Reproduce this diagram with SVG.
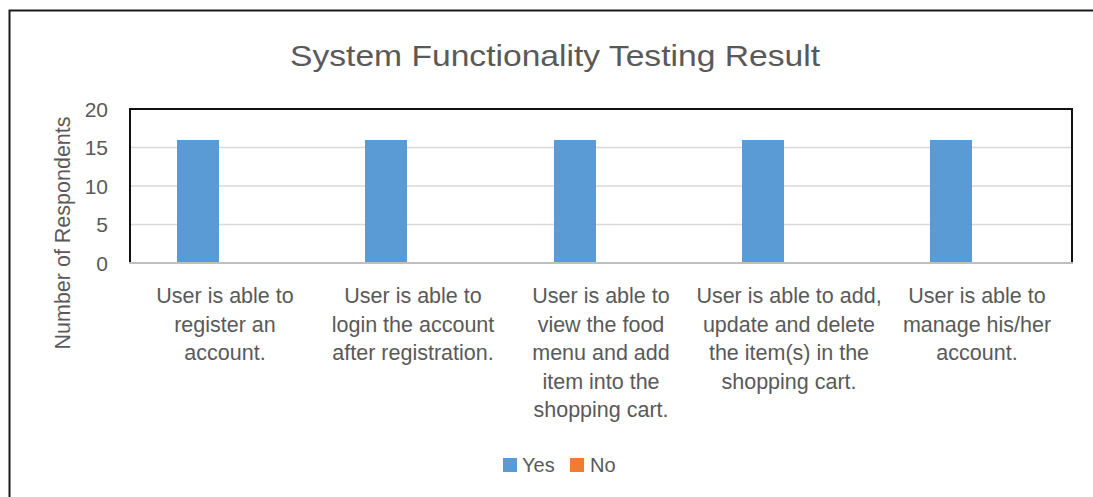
<svg xmlns="http://www.w3.org/2000/svg" width="1093" height="497" viewBox="0 0 1093 497">
<style>
text{font-family:"Liberation Sans",Arial,sans-serif;fill:#595959}
.tick{font-size:21px;text-anchor:end}
.cat{font-size:21.5px;text-anchor:middle}
.grid{stroke:#D9D9D9;stroke-width:1.5}
.bar{fill:#5B9BD5}
</style>
<rect width="1093" height="497" fill="#fff"/>
<g id="frame">
<path d="M9.5 497 V10.5 H1093" fill="none" stroke="#1a1a1a" stroke-width="2"/>
</g>
<text id="title" x="555" y="66" font-size="30" text-anchor="middle" textLength="530" lengthAdjust="spacingAndGlyphs">System Functionality Testing Result</text>
<g id="gridlines">
<line class="grid" x1="130" y1="147.5" x2="1072" y2="147.5"/>
<line class="grid" x1="130" y1="186" x2="1072" y2="186"/>
<line class="grid" x1="130" y1="224.5" x2="1072" y2="224.5"/>
</g>
<g id="bars">
<rect class="bar" x="177" y="140" width="42" height="123"/>
<rect class="bar" x="365" y="140" width="42" height="123"/>
<rect class="bar" x="554" y="140" width="42" height="123"/>
<rect class="bar" x="742" y="140" width="42" height="123"/>
<rect class="bar" x="930" y="140" width="42" height="123"/>
</g>
<g id="plot-border">
<path d="M130 263 V109 H1072 V263" fill="none" stroke="#111" stroke-width="2"/>
<line x1="129" y1="263" x2="1073" y2="263" stroke="#BFBFBF" stroke-width="2"/>
</g>
<g id="y-axis">
<text class="tick" x="108" y="116.5">20</text>
<text class="tick" x="108" y="155">15</text>
<text class="tick" x="108" y="193.5">10</text>
<text class="tick" x="108" y="232">5</text>
<text class="tick" x="108" y="270.5">0</text>
<text x="70" y="233" font-size="21.5" text-anchor="middle" transform="rotate(-90 70 233)">Number of Respondents</text>
</g>
<g id="categories">
<text class="cat" x="225" y="303">User is able to<tspan x="225" y="331.5">register an</tspan><tspan x="225" y="360">account.</tspan></text>
<text class="cat" x="413" y="303">User is able to<tspan x="413" y="331.5">login the account</tspan><tspan x="413" y="360">after registration.</tspan></text>
<text class="cat" x="601" y="303">User is able to<tspan x="601" y="331.5">view the food</tspan><tspan x="601" y="360">menu and add</tspan><tspan x="601" y="388.5">item into the</tspan><tspan x="601" y="417">shopping cart.</tspan></text>
<text class="cat" x="789" y="303">User is able to add,<tspan x="789" y="331.5">update and delete</tspan><tspan x="789" y="360">the item(s) in the</tspan><tspan x="789" y="388.5">shopping cart.</tspan></text>
<text class="cat" x="977" y="303">User is able to<tspan x="977" y="331.5">manage his/her</tspan><tspan x="977" y="360">account.</tspan></text>
</g>
<g id="legend">
<rect x="503" y="458" width="14" height="14" fill="#5B9BD5"/>
<text x="522" y="472" font-size="20">Yes</text>
<rect x="570" y="458" width="14" height="14" fill="#ED7D31"/>
<text x="590" y="472" font-size="20">No</text>
</g>
</svg>
